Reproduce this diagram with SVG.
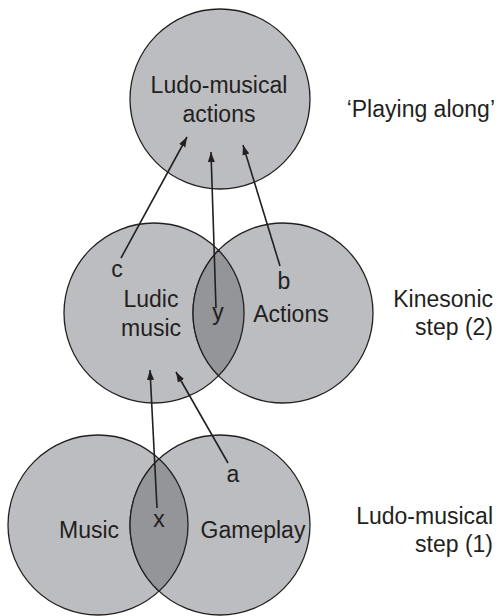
<svg xmlns="http://www.w3.org/2000/svg" width="498" height="616" viewBox="0 0 498 616">
<defs>
<style>
.c{fill:#bcbdc0;stroke:#231f20;stroke-width:1.3}
.l{fill:#939598;stroke:#231f20;stroke-width:1.3}
text{font-family:"Liberation Sans",Arial,sans-serif;font-size:23px;fill:#231f20}
.m{text-anchor:middle}
.r{text-anchor:end}
.a{stroke:#231f20;stroke-width:1.6;fill:none;marker-end:url(#ah)}
</style>
<marker id="ah" viewBox="0 0 10 10" refX="10" refY="5" markerWidth="10" markerHeight="10" markerUnits="userSpaceOnUse" orient="auto">
<path d="M0,1.5 L10,5 L0,8.5 Z" fill="#231f20"/>
</marker>
</defs>
<rect width="498" height="616" fill="#ffffff"/>
<g id="ludo-musical-actions">
<circle class="c" cx="220" cy="99" r="90"/>
<text class="m" x="219" y="93">Ludo-musical</text>
<text class="m" x="219" y="122">actions</text>
</g>
<g id="ludic-music">
<circle class="c" cx="154" cy="313" r="90"/>
<text class="m" x="151" y="307">Ludic</text>
<text class="m" x="151" y="336">music</text>
</g>
<g id="actions">
<circle class="c" cx="283" cy="313" r="90"/>
<path class="l" d="M218.5,250.2 A90,90 0 0 1 218.5,375.8 A90,90 0 0 1 218.5,250.2 Z"/>
<text class="m" x="291" y="322">Actions</text>
</g>
<g id="music">
<circle class="c" cx="98" cy="525" r="90"/>
<text class="m" x="89" y="538">Music</text>
</g>
<g id="gameplay">
<circle class="c" cx="220" cy="525" r="90"/>
<path class="l" d="M159,458.8 A90,90 0 0 1 159,591.2 A90,90 0 0 1 159,458.8 Z"/>
<text class="m" x="253" y="538">Gameplay</text>
</g>
<g id="connectors">
<line class="a" x1="121" y1="258" x2="187" y2="137"/>
<line class="a" x1="216" y1="308" x2="211" y2="152"/>
<line class="a" x1="280" y1="266" x2="243" y2="145"/>
<line class="a" x1="157" y1="508" x2="150" y2="370"/>
<line class="a" x1="228" y1="463" x2="176" y2="372"/>
<text class="m" x="117" y="277">c</text>
<text class="m" x="218" y="320">y</text>
<text class="m" x="284" y="289">b</text>
<text class="m" x="159" y="527">x</text>
<text class="m" x="233" y="482">a</text>
</g>
<g id="labels">
<text class="r" x="495" y="117">‘Playing along’</text>
<text class="r" x="493" y="307">Kinesonic</text>
<text class="r" x="493" y="335">step (2)</text>
<text class="r" x="493" y="524">Ludo-musical</text>
<text class="r" x="493" y="552">step (1)</text>
</g>
</svg>
